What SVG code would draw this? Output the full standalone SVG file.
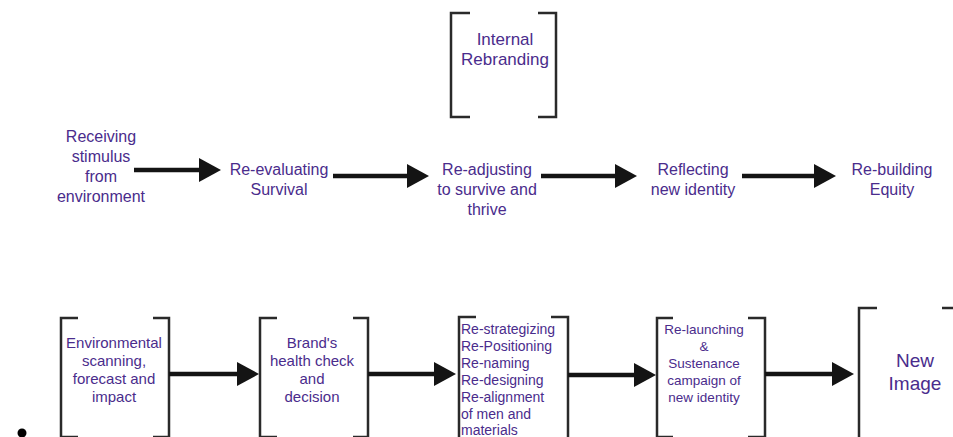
<svg xmlns="http://www.w3.org/2000/svg" width="953" height="437" viewBox="0 0 953 437">
<defs>
<style>
.t{font-family:"Liberation Sans",Arial,sans-serif;fill:#4a2c8c;text-anchor:middle}
.s16{font-size:16px}
.s15{font-size:15px}
.s14{font-size:14px}
.s13{font-size:13.5px}
.s17{font-size:17px}
.s19{font-size:19px}
.br{fill:none;stroke:#2a2a2a;stroke-width:2.5}
.ar{stroke:#141414;stroke-width:4.5;fill:none}
</style>
<marker id="ah" markerUnits="userSpaceOnUse" markerWidth="22" markerHeight="24" viewBox="0 0 22 24" refX="0" refY="12" orient="auto">
<path d="M0,0 L22,12 L0,24 Z" fill="#141414"/>
</marker>
</defs>
<rect width="953" height="437" fill="#ffffff"/>

<g id="internal-rebranding">
<path class="br" d="M470,13 H451 V117 H470 M538,13 H556 V117 H538"/>
<text class="t s17" x="505" y="45">Internal</text>
<text class="t s17" x="505" y="65">Rebranding</text>
</g>

<g id="receiving">
<text class="t s16" x="101" y="142">Receiving</text>
<text class="t s16" x="101" y="162">stimulus</text>
<text class="t s16" x="101" y="182">from</text>
<text class="t s16" x="101" y="202">environment</text>
</g>
<g id="re-evaluating">
<text class="t s16" x="279" y="175">Re-evaluating</text>
<text class="t s16" x="279" y="195">Survival</text>
</g>
<g id="re-adjusting">
<text class="t s16" x="487" y="175">Re-adjusting</text>
<text class="t s16" x="487" y="195">to survive and</text>
<text class="t s16" x="487" y="215">thrive</text>
</g>
<g id="reflecting">
<text class="t s16" x="693" y="175">Reflecting</text>
<text class="t s16" x="693" y="195">new identity</text>
</g>
<g id="re-building">
<text class="t s16" x="892" y="175">Re-building</text>
<text class="t s16" x="892" y="195">Equity</text>
</g>

<g id="environmental">
<path class="br" d="M78,318 H61 V437 M153,318 H169 V437"/>
<path class="br" d="M61,437 H78 M153,437 H169"/>
<text class="t s15" x="114" y="348">Environmental</text>
<text class="t s15" x="114" y="366">scanning,</text>
<text class="t s15" x="114" y="384">forecast and</text>
<text class="t s15" x="114" y="402">impact</text>
</g>
<g id="health-check">
<path class="br" d="M277,318 H260 V437 M353,318 H368 V437"/>
<path class="br" d="M260,437 H277 M353,437 H368"/>
<text class="t s15" x="312" y="348">Brand's</text>
<text class="t s15" x="312" y="366">health check</text>
<text class="t s15" x="312" y="384">and</text>
<text class="t s15" x="312" y="402">decision</text>
</g>
<g id="re-strategizing">
<path class="br" d="M476,317 H459 V437 M551,317 H568 V437"/>
<g class="t s14" style="text-anchor:start">
<text x="461" y="334">Re-strategizing</text>
<text x="461" y="351">Re-Positioning</text>
<text x="461" y="368">Re-naming</text>
<text x="461" y="385">Re-designing</text>
<text x="461" y="402">Re-alignment</text>
<text x="461" y="418.5">of men and</text>
<text x="461" y="434.5">materials</text>
</g>
</g>
<g id="re-launching">
<path class="br" d="M673,318 H657 V437 M748,318 H765 V437"/>
<path class="br" d="M657,437 H673 M748,437 H765"/>
<text class="t s13" x="704" y="334">Re-launching</text>
<text class="t s13" x="704" y="351">&amp;</text>
<text class="t s13" x="704" y="368">Sustenance</text>
<text class="t s13" x="704" y="385">campaign of</text>
<text class="t s13" x="704" y="402">new identity</text>
</g>
<g id="new-image">
<path class="br" d="M877,308 H859 V437 M942,308 H955"/>
<text class="t s19" x="915" y="367">New</text>
<text class="t s19" x="915" y="390">Image</text>
</g>

<circle cx="22" cy="433" r="4.5" fill="#000"/>

<g id="connectors">
<line class="ar" x1="134" y1="170" x2="199" y2="170" marker-end="url(#ah)"/>
<line class="ar" x1="333" y1="176" x2="407" y2="176" marker-end="url(#ah)"/>
<line class="ar" x1="541" y1="176" x2="615" y2="176" marker-end="url(#ah)"/>
<line class="ar" x1="742" y1="176" x2="814" y2="176" marker-end="url(#ah)"/>
<line class="ar" x1="169" y1="374" x2="237" y2="374" marker-end="url(#ah)"/>
<line class="ar" x1="368" y1="374" x2="434" y2="374" marker-end="url(#ah)"/>
<line class="ar" x1="568" y1="375" x2="634" y2="375" marker-end="url(#ah)"/>
<line class="ar" x1="765" y1="374" x2="832" y2="374" marker-end="url(#ah)"/>
</g>
</svg>
